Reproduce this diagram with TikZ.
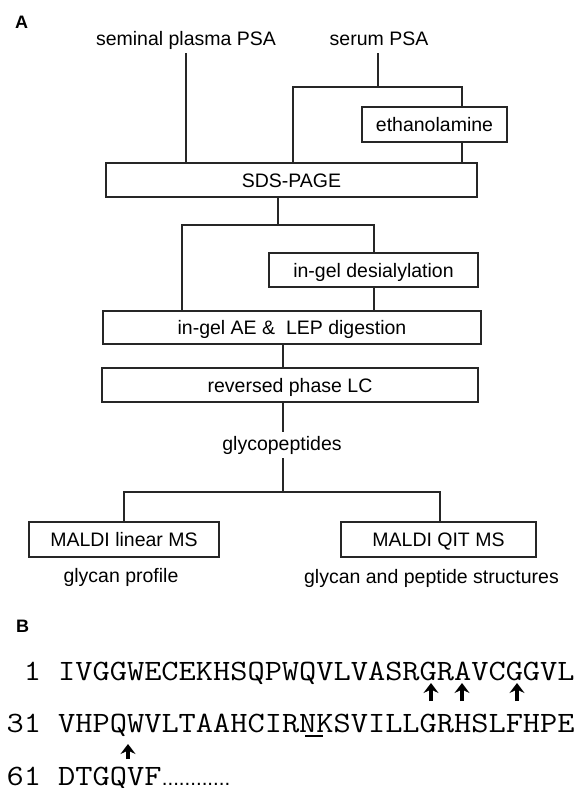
\documentclass[tikz,border=0pt]{standalone}
\usepackage{fontspec}
\setmainfont{Liberation Sans}
\usepackage{graphicx}
\usetikzlibrary{arrows.meta}
\newcommand\flab{\fontsize{19.5}{23}\selectfont}
\newcommand\fseq{\ttfamily\fontsize{29.5}{30}\selectfont}
\newcommand\fpanel{\bfseries\fontsize{18}{20}\selectfont}
\newcommand\fdots{\fontsize{20.5}{22}\selectfont}
\newcommand\seqtxt[1]{\scalebox{1.133}[1]{#1}}
\tikzset{
 box/.style={draw=black!85, line width=1.4pt, inner sep=0pt, text height=14pt, text depth=0pt, font=\flab},
 lbl/.style={anchor=base, inner sep=4pt, text height=14pt, text depth=4pt, font=\flab},
 conn/.style={draw=black!85, line width=1.2pt},
 seqline/.style={anchor=base west, inner sep=0pt, text depth=0pt, font=\fseq},
 cutarrow/.style={line width=4.5pt, -{Stealth[length=10pt,width=15pt,inset=3.5pt]}},
 panel/.style={anchor=base west, inner sep=0pt, font=\fpanel}
}
\begin{document}
\begin{tikzpicture}[x=1pt,y=-1pt]
\useasboundingbox (0,0) rectangle (587,788);
% panel A
\node[panel] (A) at (15,28) {A};
\node[lbl] (sem) at (186,45) {seminal plasma PSA};
\node[lbl] (ser) at (379,45) {serum PSA};
\node[box, minimum width=145pt, minimum height=35pt] (eth) at (434.5,124.5) {ethanolamine};
\node[box, minimum width=371pt, minimum height=34pt] (sds) at (291.5,180) {SDS-PAGE};
\node[box, minimum width=209pt, minimum height=34pt] (des) at (373.5,270) {in-gel desialylation};
\node[box, minimum width=378pt, minimum height=33pt] (ae) at (292,327.5) {in-gel AE \&\ \ LEP digestion};
\node[box, minimum width=376pt, minimum height=34pt] (rp) at (290,385) {reversed phase LC};
\node[lbl] (gly) at (282,450) {glycopeptides};
\node[box, minimum width=190pt, minimum height=35pt] (lin) at (124,539.5) {MALDI linear MS};
\node[box, minimum width=195pt, minimum height=35pt] (qit) at (438.5,539.5) {MALDI QIT MS};
\node[lbl] (gp) at (121,582) {glycan profile};
\node[lbl] (gps) at (431.5,583) {glycan and peptide structures};
% connectors
\coordinate (j1) at (378,87);
\coordinate (j1L) at (293,87);
\coordinate (j1R) at (462,87);
\draw[conn] (sem.south) -- (sem.south |- sds.north);
\draw[conn] (ser.south -| j1) -- (j1);
\draw[conn] (j1L |- sds.north) -- (j1L) -- (j1R) -- (j1R |- eth.north);
\draw[conn] (eth.south -| j1R) -- (j1R |- sds.north);
\coordinate (j2) at (278,225);
\coordinate (j2L) at (182,225);
\coordinate (j2R) at (374,225);
\draw[conn] (sds.south -| j2) -- (j2);
\draw[conn] (j2L |- ae.north) -- (j2L) -- (j2R) -- (j2R |- des.north);
\draw[conn] (des.south -| j2R) -- (j2R |- ae.north);
\coordinate (v) at (283,356);
\draw[conn] (ae.south -| v) -- (rp.north -| v);
\draw[conn] (rp.south -| v) -- (gly.north -| v);
\coordinate (j3) at (283,492);
\coordinate (j3L) at (124,492);
\coordinate (j3R) at (440,492);
\draw[conn] (gly.south -| j3) -- (j3);
\draw[conn] (j3L |- lin.north) -- (j3L) -- (j3R) -- (j3R |- qit.north);
% panel B
\node[panel] (B) at (16,632) {B};
\node[seqline] (s1) at (6.4,680) {\seqtxt{\hphantom{3}1 IVGGWECEKHSQPWQVLVASRGRAVCGGVL}};
\node[seqline] (s2) at (6.4,732) {\seqtxt{31 VHPQWVLTAAHCIRNKSVILLGRHSLFHPE}};
\node[seqline] (s3) at (6.4,785) {\seqtxt{61 DTGQVF}};
\node[anchor=base west, inner sep=0pt, text depth=0pt, font=\fdots] (dots) at (s3.base east) {............};
\draw[line width=1.5pt] (305,736) -- (323,736);
\draw[cutarrow] (431,701) -- (431,683);
\draw[cutarrow] (462,701) -- (462,683);
\draw[cutarrow] (517,701) -- (517,683);
\draw[cutarrow] (128,759) -- (128,744);
\end{tikzpicture}
\end{document}
